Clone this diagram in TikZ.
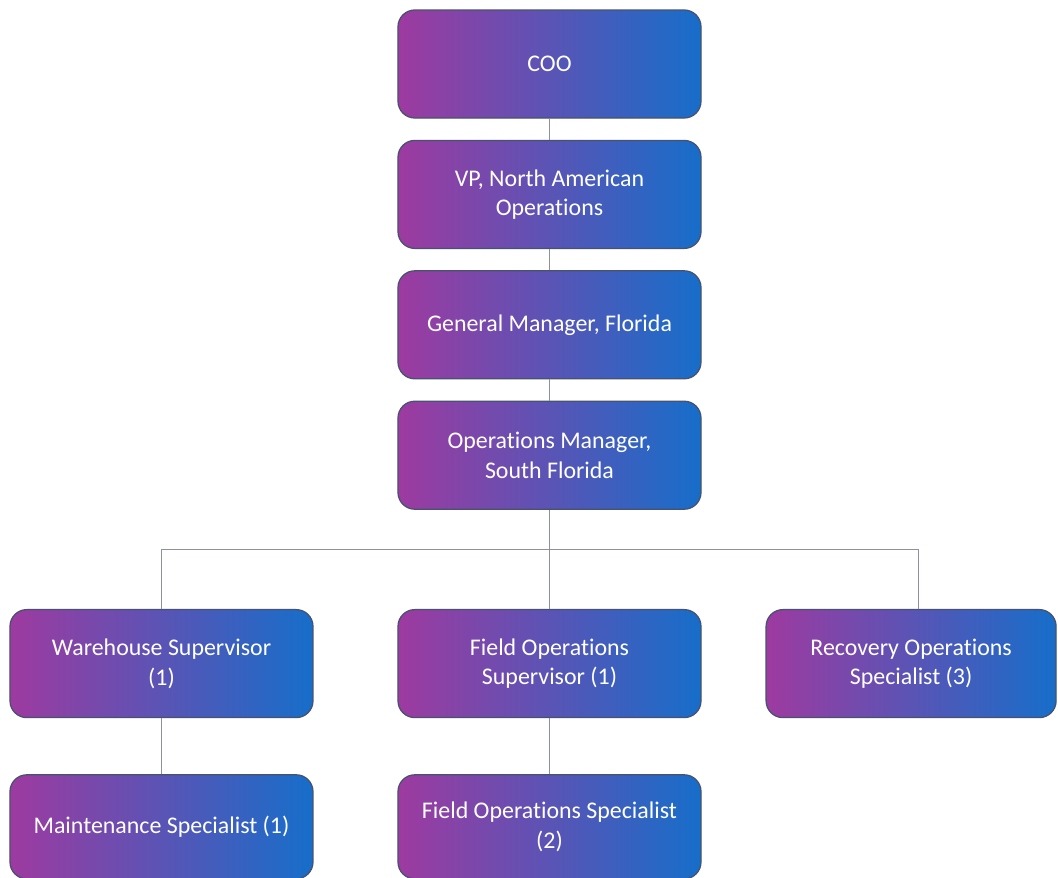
\documentclass[tikz,border=0pt]{standalone}
\usepackage{fontspec}
\setmainfont[Ligatures=NoCommon]{Carlito}
\usepackage{xcolor}
\usepackage{tikz}
\usetikzlibrary{positioning, calc}
\definecolor{boxleft}{RGB}{158,58,160}
\definecolor{boxmid}{RGB}{104,40,160}
\definecolor{boxright}{RGB}{22,110,202}
\definecolor{boxedge}{RGB}{72,82,112}
\definecolor{linkgray}{RGB}{140,144,160}
\tikzstyle{role} = [rectangle, rounded corners=0.42cm, minimum width=7.575cm, minimum height=2.7cm, text centered, align=center, draw=boxedge, line width=0.9pt, left color=boxleft, middle color=boxmid, right color=boxright, text=white, font=\fontsize{17}{21}\selectfont]
\tikzstyle{link} = [linkgray, line width=0.8pt]

\begin{document}
\begin{tikzpicture}[node distance=3.26cm]
    \useasboundingbox (-13.7375,1.6) rectangle (12.7125,-20.325);
    \node (coo) [role] at (0,0) {COO};
    \node (vp) [role, below of=coo] {VP, North American\\Operations};
    \node (gm) [role, below of=vp] {General Manager, Florida};
    \node (om) [role, below of=gm] {Operations Manager,\\South Florida};
    \node (fsup) [role, below of=om, yshift=-1.95cm] {Field Operations\\Supervisor (1)};
    \node (wsup) [role, left of=fsup, xshift=-6.44cm] {Warehouse Supervisor\\(1)};
    \node (rspec) [role, right of=fsup, xshift=5.78cm, minimum width=7.25cm] {Recovery Operations\\Specialist (3)};
    \node (mspec) [role, below of=wsup, yshift=-0.82cm, minimum height=2.6cm] {Maintenance Specialist (1)};
    \node (fspec) [role, below of=fsup, yshift=-0.82cm, minimum height=2.6cm] {Field Operations Specialist\\(2)};

    \draw [link] (coo) -- (vp);
    \draw [link] (vp) -- (gm);
    \draw [link] (gm) -- (om);
    % Team bar
    \coordinate (bar) at ($(om.south)+(0,-1cm)$);
    \draw [link] (om) -- (fsup);
    \draw [link] (wsup.north) |- (bar) -| ($(rspec.north)+(0.18,0)$);
    \draw [link] (wsup) -- (mspec);
    \draw [link] (fsup) -- (fspec);
  \end{tikzpicture}
\end{document}
